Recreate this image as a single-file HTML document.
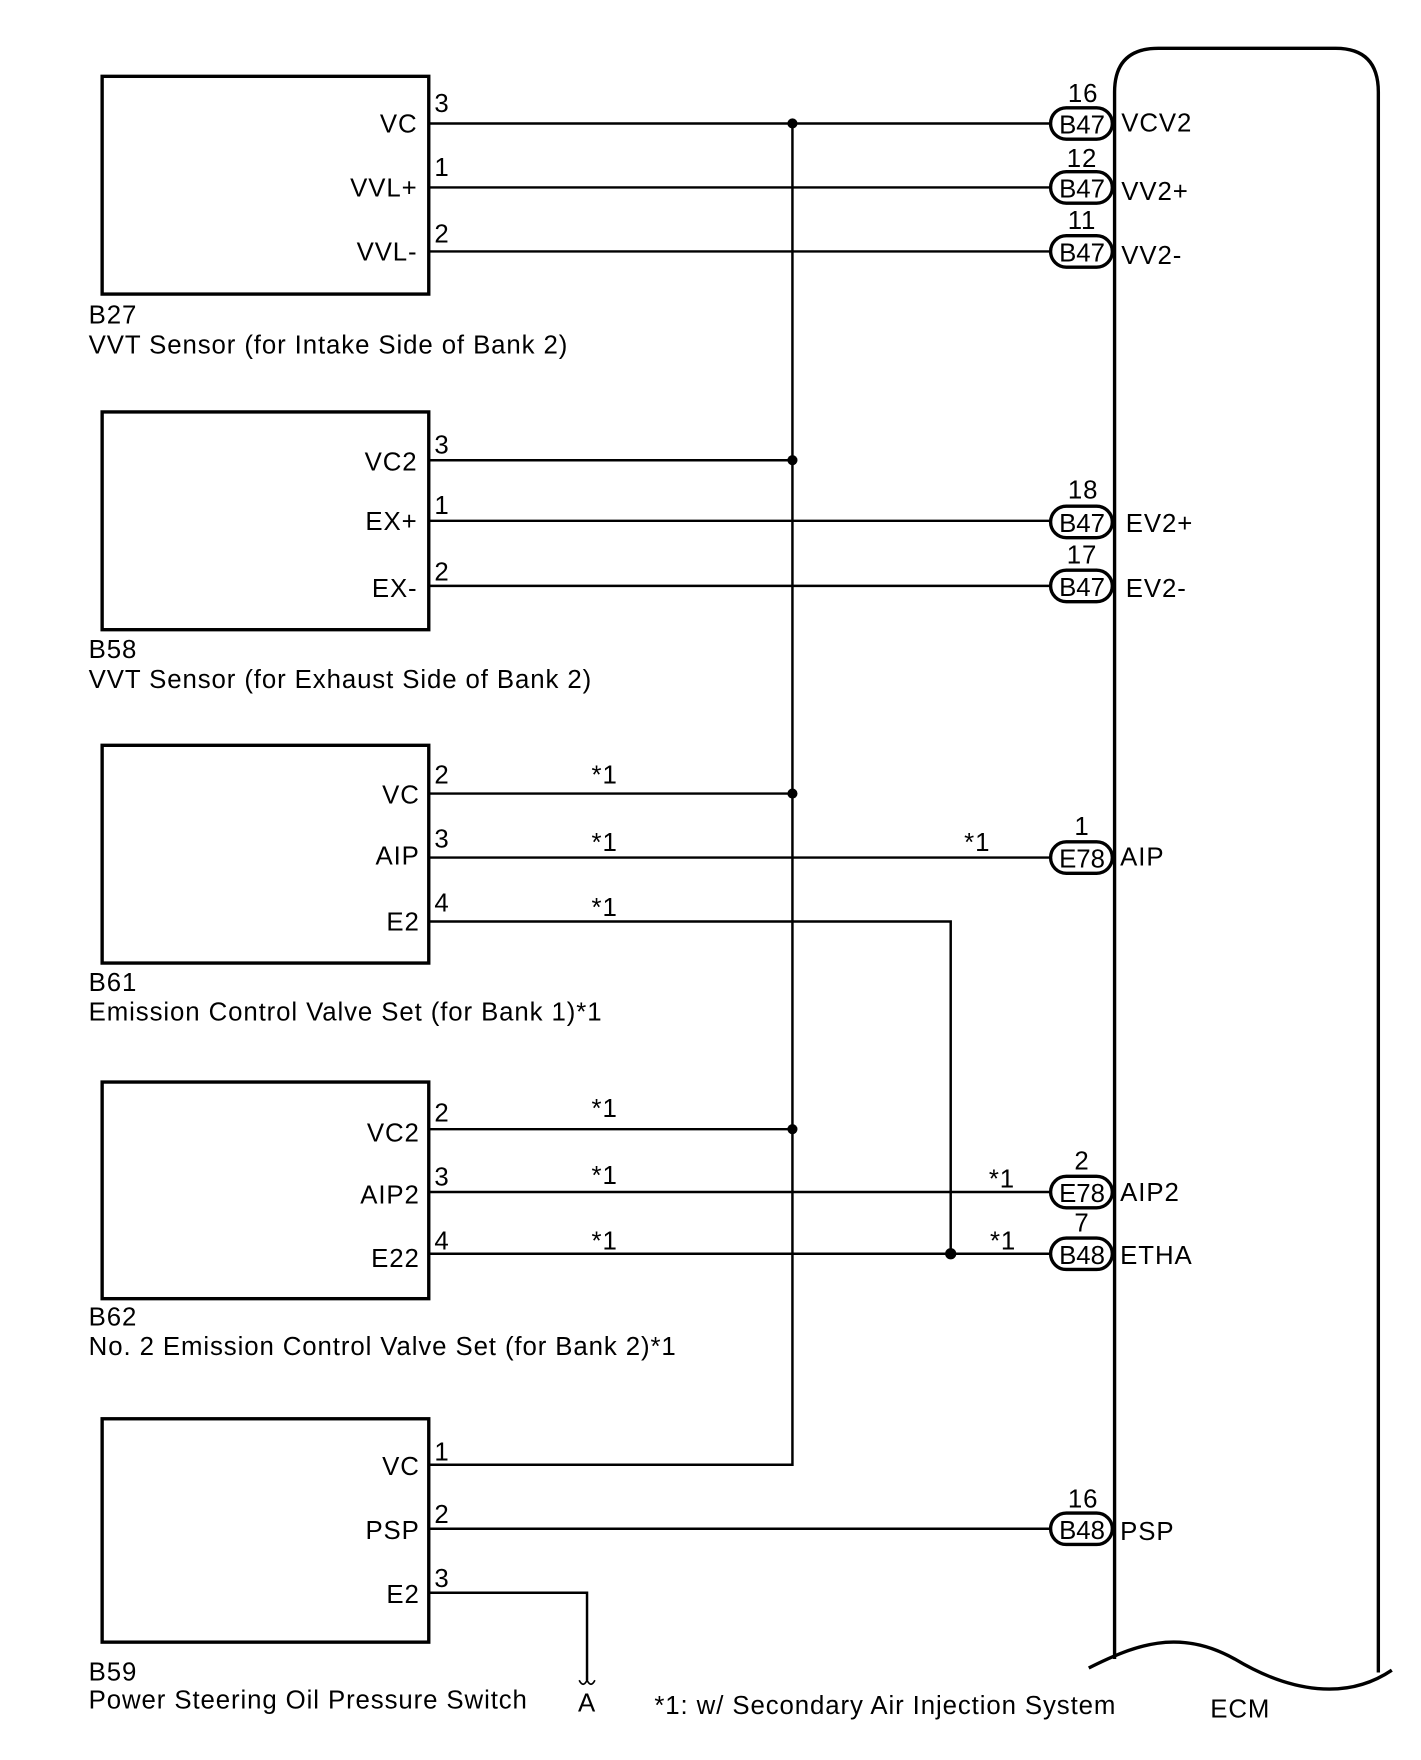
<!DOCTYPE html>
<html><head><meta charset="utf-8"><style>html,body{margin:0;padding:0;background:#fff}svg{display:block}</style></head>
<body>
<svg width="1421" height="1760" viewBox="0 0 1266 1568" preserveAspectRatio="none" xmlns="http://www.w3.org/2000/svg" font-family="Liberation Sans, Arial, sans-serif" font-size="23" letter-spacing="0.8" fill="#000">
<g fill="none" stroke="#000" stroke-width="3">
<rect x="91" y="68" width="291" height="194"/>
<rect x="91" y="367" width="291" height="194"/>
<rect x="91" y="664" width="291" height="194"/>
<rect x="91" y="964" width="291" height="193"/>
<rect x="91" y="1264" width="291" height="199"/>
<path d="M993,1478 L993,82 Q993,43 1032,43 L1190,43 Q1228,43 1228,82 L1228,1490"/>
<path d="M970,1486 C1010,1466 1050,1450 1100,1478 C1150,1508 1200,1515 1240,1488"/>
</g>
<g stroke="#000" stroke-width="2.2" fill="none">
<path d="M382,110H936M382,167H936M382,224H936"/>
<path d="M382,410H706M382,464H936M382,522H936"/>
<path d="M382,707H706M382,764H936M382,821H847V1117"/>
<path d="M382,1006H706M382,1062H936M382,1117H936"/>
<path d="M382,1305H706V110M382,1362H936M382,1419H523V1497"/>
<path d="M516,1497 Q519.5,1504 523,1497 Q526.5,1504 530,1497" stroke-width="1.5"/>
</g>
<g fill="#000">
<circle cx="706" cy="110" r="4.5"/><circle cx="706" cy="410" r="4.5"/><circle cx="706" cy="707" r="4.5"/><circle cx="706" cy="1006" r="4.5"/><circle cx="847" cy="1117" r="5"/>
</g>
<g fill="#fff" stroke="#000" stroke-width="3">
<rect x="936" y="96" width="55" height="28" rx="14"/>
<rect x="936" y="153" width="55" height="28" rx="14"/>
<rect x="936" y="210" width="55" height="28" rx="14"/>
<rect x="936" y="451" width="55" height="28" rx="14"/>
<rect x="936" y="508" width="55" height="28" rx="14"/>
<rect x="936" y="750" width="55" height="28" rx="14"/>
<rect x="936" y="1048" width="55" height="28" rx="14"/>
<rect x="936" y="1103" width="55" height="28" rx="14"/>
<rect x="936" y="1348" width="55" height="28" rx="14"/>
</g>
<g text-anchor="middle">
<g letter-spacing="0">
<text x="964" y="119">B47</text><text x="964" y="176">B47</text><text x="964" y="233">B47</text>
<text x="964" y="474">B47</text><text x="964" y="531">B47</text><text x="964" y="773">E78</text>
<text x="964" y="1071">E78</text><text x="964" y="1126">B48</text><text x="964" y="1371">B48</text>
</g>
<text x="965" y="91">16</text><text x="964" y="149">12</text><text x="964" y="204">11</text>
<text x="965" y="444">18</text><text x="964" y="502">17</text><text x="964" y="744">1</text>
<text x="964" y="1042">2</text><text x="964" y="1097">7</text><text x="965" y="1343">16</text>
<text x="523" y="1525">A</text><text x="1105" y="1530">ECM</text>
</g>
<g text-anchor="end">
<text x="372" y="118">VC</text><text x="372" y="175">VVL+</text><text x="372" y="232">VVL-</text>
<text x="372" y="419">VC2</text><text x="372" y="472">EX+</text><text x="372" y="532">EX-</text>
<text x="374" y="716">VC</text><text x="374" y="770">AIP</text><text x="374" y="829">E2</text>
<text x="374" y="1017">VC2</text><text x="374" y="1072">AIP2</text><text x="374" y="1129">E22</text>
<text x="374" y="1314">VC</text><text x="374" y="1371">PSP</text><text x="374" y="1428">E2</text>
</g>
<g>
<text x="387" y="100">3</text><text x="387" y="157">1</text><text x="387" y="216">2</text>
<text x="387" y="404">3</text><text x="387" y="458">1</text><text x="387" y="517">2</text>
<text x="387" y="698">2</text><text x="387" y="755">3</text><text x="387" y="812">4</text>
<text x="387" y="999">2</text><text x="387" y="1056">3</text><text x="387" y="1113">4</text>
<text x="387" y="1301">1</text><text x="387" y="1357">2</text><text x="387" y="1414">3</text>
<text x="527" y="698">*1</text><text x="527" y="758">*1</text><text x="527" y="816">*1</text>
<text x="859" y="758">*1</text>
<text x="527" y="995">*1</text><text x="527" y="1055">*1</text><text x="527" y="1113">*1</text>
<text x="881" y="1058">*1</text><text x="882" y="1113">*1</text>
<text x="999" y="117">VCV2</text><text x="999" y="178">VV2+</text><text x="999" y="235">VV2-</text>
<text x="1003" y="474">EV2+</text><text x="1003" y="532">EV2-</text><text x="998" y="771">AIP</text>
<text x="998" y="1070">AIP2</text><text x="998" y="1126">ETHA</text><text x="998" y="1372">PSP</text>
<text x="79" y="288">B27</text><text x="79" y="315">VVT Sensor (for Intake Side of Bank 2)</text>
<text x="79" y="586">B58</text><text x="79" y="613">VVT Sensor (for Exhaust Side of Bank 2)</text>
<text x="79" y="883">B61</text><text x="79" y="909">Emission Control Valve Set (for Bank 1)*1</text>
<text x="79" y="1181">B62</text><text x="79" y="1207">No. 2 Emission Control Valve Set (for Bank 2)*1</text>
<text x="79" y="1497">B59</text><text x="79" y="1522">Power Steering Oil Pressure Switch</text>
<text x="583" y="1527">*1: w/ Secondary Air Injection System</text>
</g>
</svg>
</body></html>
